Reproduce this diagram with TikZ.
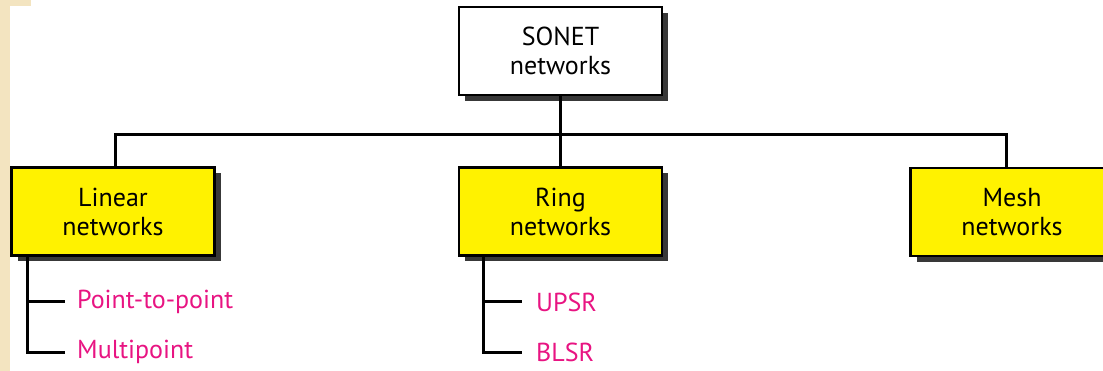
\documentclass[tikz,border=0pt]{standalone}
\usepackage{fontspec}
\setmainfont{PT Sans}
\usepackage{xcolor}
\usetikzlibrary{shadows}
\definecolor{paper}{RGB}{243,228,192}
\definecolor{kind}{RGB}{232,20,130}
\tikzset{
  netbox/.style={draw, line width=2.6pt, fill=#1, minimum width=203pt,
    minimum height=88pt, align=center, font=\fontsize{26}{29}\selectfont,
    drop shadow={shadow xshift=6pt, shadow yshift=-6pt, fill=black!78, opacity=1}},
  netbox/.default=white,
  kindlabel/.style={anchor=west, inner sep=0pt, text=kind,
    font=\fontsize{26}{29}\selectfont},
  link/.style={line width=3pt}
}

\begin{document}
\begin{tikzpicture}[x=1pt,y=-1pt]
  \useasboundingbox (0,0) rectangle (1103,371);
  \clip (0,0) rectangle (1103,371);
  \fill[paper] (0,0) rectangle (10,371);
  \fill[paper] (0,0) rectangle (31,6);
  % top of the tree
  \node[netbox] (sonet) at (560.5,51) {SONET\\networks};
  \node[netbox=yellow] (linear) at (113,211.5) {Linear\\networks};
  \node[netbox=yellow] (ring) at (560.5,211.5) {Ring\\networks};
  \node[netbox=yellow] (mesh) at (1012,212) {Mesh\\networks};
  \coordinate (bus) at (560.5,135);
  \draw[link] (sonet) -- (ring);
  \draw[link] (linear.north -| 115,0) |- (bus) -| (mesh.north -| 1006,0);
  % kinds of each network
  \node[kindlabel] (p2p) at (77,302) {Point-to-point};
  \node[kindlabel] (multi) at (77,352) {Multipoint};
  \node[kindlabel] (upsr) at (536,302) {UPSR};
  \node[kindlabel] (blsr) at (536,352) {BLSR};
  \draw[link] (linear.south -| 27,0) |- ([xshift=-12pt]multi.west);
  \draw[link] (linear.south -| 27,0) |- ([xshift=-12pt]p2p.west);
  \draw[link] (ring.south -| 483,0) |- ([xshift=-14pt]blsr.west);
  \draw[link] (ring.south -| 483,0) |- ([xshift=-14pt]upsr.west);
\end{tikzpicture}
\end{document}
